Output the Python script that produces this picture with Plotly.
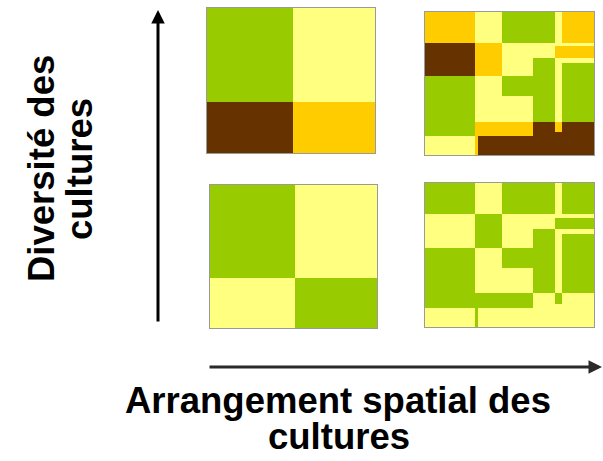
import plotly.graph_objects as go

W, H = 603, 461

# colour codes: 0 light yellow, 1 green, 2 orange, 3 brown
PALETTE = ["#FFFF80", "#99CC00", "#FFCC00", "#663300"]

# ---- left squares (2 x 2 patches) ----
left_x_edges = [0, 51, 100]
left_y_edges = [0, 65, 100]          # measured from the top
tl_codes = [[1, 0],
            [3, 2]]
bl_codes = [[1, 0],
            [0, 1]]

# ---- right squares (fragmented patches) ----
right_x_edges = [0, 29.6, 31.6, 45.4, 64.1, 76.9, 80.9, 100]
right_y_edges = [0, 21.6, 24.0, 31.9, 35.6, 44.9, 58.8, 76.7, 83.7, 86.7, 100]
tr_codes = [
    [2, 0, 0, 1, 1, 0, 2],
    [3, 2, 2, 0, 0, 0, 0],
    [3, 2, 2, 0, 0, 2, 2],
    [3, 2, 2, 0, 1, 0, 0],
    [3, 2, 2, 0, 1, 0, 1],
    [1, 0, 0, 1, 1, 0, 1],
    [1, 0, 0, 0, 1, 0, 1],
    [1, 2, 2, 2, 3, 2, 3],
    [1, 2, 2, 2, 3, 3, 3],
    [0, 2, 3, 3, 3, 3, 3],
]
br_codes = [
    [1, 0, 0, 1, 1, 0, 1],
    [0, 1, 1, 0, 0, 0, 0],
    [0, 1, 1, 0, 0, 1, 1],
    [0, 1, 1, 0, 1, 0, 0],
    [0, 1, 1, 0, 1, 0, 1],
    [1, 0, 0, 1, 1, 0, 1],
    [1, 0, 0, 0, 1, 0, 1],
    [1, 1, 1, 1, 0, 1, 0],
    [1, 1, 1, 1, 0, 0, 0],
    [0, 1, 0, 0, 0, 0, 0],
]

y_label = ["Diversité des", "cultures"]
x_label = ["Arrangement spatial des", "cultures"]

colorscale = []
n = len(PALETTE)
for i, c in enumerate(PALETTE):
    colorscale.append([i / n, c])
    colorscale.append([(i + 1) / n, c])

# panel placement in pixels: (x0, x1, ytop, ybottom)
panels = [
    ("tl", left_x_edges, left_y_edges, tl_codes, (207, 375, 8, 153)),
    ("tr", right_x_edges, right_y_edges, tr_codes, (425, 594, 12, 155)),
    ("bl", left_x_edges, left_y_edges, bl_codes, (210, 377, 185, 328)),
    ("br", right_x_edges, right_y_edges, br_codes, (425, 594, 183, 327)),
]

fig = go.Figure()
layout = dict(
    width=W, height=H,
    margin=dict(l=0, r=0, t=0, b=0, autoexpand=False),
    paper_bgcolor="white", plot_bgcolor="white",
    showlegend=False,
)
for k, (name, xe, ye, codes, (x0, x1, yt, yb)) in enumerate(panels):
    idx = "" if k == 0 else str(k + 1)
    fig.add_trace(go.Heatmap(
        x=xe, y=ye, z=codes,
        zmin=-0.5, zmax=n - 0.5,
        colorscale=colorscale, showscale=False,
        hoverinfo="skip",
        xaxis="x" + idx, yaxis="y" + idx,
    ))
    ax = dict(range=[0, 100], showgrid=False, zeroline=False,
              showticklabels=False, ticks="", showline=True, mirror=True,
              linecolor="#9a9a9a", linewidth=1, fixedrange=True)
    layout["xaxis" + idx] = dict(ax, domain=[x0 / W, x1 / W], anchor="y" + idx)
    layout["yaxis" + idx] = dict(ax, range=[100, 0], domain=[1 - yb / H, 1 - yt / H],
                                 anchor="x" + idx)

fig.update_layout(**layout)

vfont = dict(family="Liberation Sans, Arial, sans-serif", size=36.5, color="black", weight="bold")
hfont = dict(family="Liberation Sans, Arial, sans-serif", size=36.5, color="black", weight="bold")

# arrows
fig.add_annotation(xref="paper", yref="paper", x=158 / W, y=1 - 10 / H,
                   ax=0, ay=313, axref="pixel", ayref="pixel",
                   text="", showarrow=True, arrowhead=2, arrowsize=0.9,
                   arrowwidth=3, arrowcolor="black")
fig.add_annotation(xref="paper", yref="paper", x=602 / W, y=1 - 367 / H,
                   ax=-394, ay=0, axref="pixel", ayref="pixel",
                   text="", showarrow=True, arrowhead=2, arrowsize=0.9,
                   arrowwidth=3, arrowcolor="#2a2a2a")

# labels
fig.add_annotation(xref="paper", yref="paper", x=42 / W, y=1 - 169 / H,
                   text=y_label[0], textangle=-90, showarrow=False,
                   xanchor="center", yanchor="middle", font=vfont)
fig.add_annotation(xref="paper", yref="paper", x=80 / W, y=1 - 169 / H,
                   text=y_label[1], textangle=-90, showarrow=False,
                   xanchor="center", yanchor="middle", font=vfont)
fig.add_annotation(xref="paper", yref="paper", x=338 / W, y=1 - 400 / H,
                   text=x_label[0], showarrow=False,
                   xanchor="center", yanchor="middle", font=hfont)
fig.add_annotation(xref="paper", yref="paper", x=339 / W, y=1 - 436 / H,
                   text=x_label[1], showarrow=False,
                   xanchor="center", yanchor="middle", font=hfont)

fig.write_html("out.html",
               config={"displayModeBar": False, "staticPlot": True},
               post_script="document.body.style.margin='0';document.body.style.overflow='hidden';")
